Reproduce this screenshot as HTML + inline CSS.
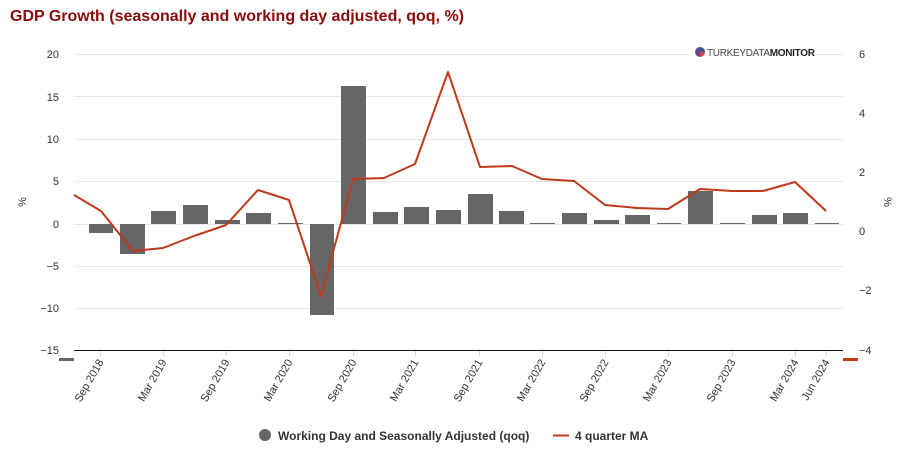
<!DOCTYPE html>
<html><head><meta charset="utf-8"><style>
body{margin:0;background:#fff;width:910px;height:466px;overflow:hidden}
svg{display:block;font-family:"Liberation Sans","DejaVu Sans",sans-serif}
</style></head><body>
<svg width="910" height="466" viewBox="0 0 910 466">
<text x="10" y="21" font-size="16" font-weight="bold" fill="#8b0a0a">GDP Growth (seasonally and working day adjusted, qoq, %)</text>
<g stroke="#e6e6e6" stroke-width="1">
<line x1="74" x2="843" y1="54.5" y2="54.5"/>
<line x1="74" x2="843" y1="96.5" y2="96.5"/>
<line x1="74" x2="843" y1="139.5" y2="139.5"/>
<line x1="74" x2="843" y1="181.5" y2="181.5"/>
<line x1="74" x2="843" y1="224.5" y2="224.5"/>
<line x1="74" x2="843" y1="266.5" y2="266.5"/>
<line x1="74" x2="843" y1="308.5" y2="308.5"/>
</g>
<rect x="688" y="44" width="122" height="16" fill="#fff"/>
<circle cx="700" cy="52" r="5" fill="#6a4a8a"/>
<path d="M700 47 A5 5 0 0 1 705 52 L700 52Z" fill="#2a5aa8"/>
<path d="M700 52 L705 52 A5 5 0 0 1 700 57Z" fill="#d44"/>
<text x="707" y="56" font-size="10" fill="#444" letter-spacing="-0.3">TURKEYDATA<tspan font-weight="bold" fill="#222">MONITOR</tspan></text>
<g font-size="11" fill="#333" text-anchor="end">
<text x="59" y="58">20</text><text x="59" y="101">15</text><text x="59" y="143">10</text>
<text x="59" y="185">5</text><text x="59" y="228">0</text><text x="59" y="270">−5</text>
<text x="59" y="312">−10</text><text x="59" y="354">−15</text>
</g>
<g font-size="11" fill="#333" text-anchor="start">
<text x="859" y="58">6</text><text x="859" y="117">4</text><text x="859" y="176">2</text>
<text x="859" y="235">0</text><text x="859" y="294">−2</text><text x="859" y="354">−4</text>
</g>
<text transform="translate(26,202) rotate(-90)" font-size="11" fill="#333" text-anchor="middle">%</text>
<text transform="translate(884,202) rotate(90)" font-size="11" fill="#333" text-anchor="middle">%</text>
<g fill="#666">
<rect x="89" y="224" width="24" height="9"/>
<rect x="120" y="224" width="25" height="30"/>
<rect x="151" y="211" width="25" height="13"/>
<rect x="183" y="205" width="25" height="19"/>
<rect x="215" y="220" width="25" height="4"/>
<rect x="246" y="213" width="25" height="11"/>
<rect x="278" y="223" width="25" height="1"/>
<rect x="310" y="224" width="24" height="91"/>
<rect x="341" y="86" width="25" height="138"/>
<rect x="373" y="212" width="25" height="12"/>
<rect x="404" y="207" width="25" height="17"/>
<rect x="436" y="210" width="25" height="14"/>
<rect x="468" y="194" width="25" height="30"/>
<rect x="499" y="211" width="25" height="13"/>
<rect x="530" y="223" width="25" height="1"/>
<rect x="562" y="213" width="25" height="11"/>
<rect x="594" y="220" width="25" height="4"/>
<rect x="625" y="215" width="25" height="9"/>
<rect x="657" y="223" width="24" height="1"/>
<rect x="688" y="191" width="25" height="33"/>
<rect x="720" y="223" width="25" height="1"/>
<rect x="752" y="215" width="25" height="9"/>
<rect x="783" y="213" width="25" height="11"/>
<rect x="815" y="223" width="24" height="1"/>
</g>
<polyline fill="none" stroke="#c0391b" stroke-width="2" stroke-linejoin="round" points="74,195 101,211 133,251 163,248 194,236 226,225 258,190 289,200 321,296 353,179 384,178 415,164 448,72 480,167 512,166 542,179 574,181 605,205 637,208 668,209 700,189 732,191 763,191 795,182 826,211"/>
<line x1="74" x2="843" y1="350.5" y2="350.5" stroke="#111" stroke-width="1"/>
<rect x="59" y="358" width="15" height="3" fill="#666"/>
<rect x="843" y="358" width="15" height="3" fill="#c0391b"/>
<g stroke="#ccd6eb" stroke-width="1">
<line x1="100.5" x2="100.5" y1="351" y2="356"/><line x1="163.5" x2="163.5" y1="351" y2="356"/>
<line x1="226.5" x2="226.5" y1="351" y2="356"/><line x1="289.5" x2="289.5" y1="351" y2="356"/>
<line x1="353.5" x2="353.5" y1="351" y2="356"/><line x1="415.5" x2="415.5" y1="351" y2="356"/>
<line x1="479.5" x2="479.5" y1="351" y2="356"/><line x1="542.5" x2="542.5" y1="351" y2="356"/>
<line x1="605.5" x2="605.5" y1="351" y2="356"/><line x1="668.5" x2="668.5" y1="351" y2="356"/>
<line x1="732.5" x2="732.5" y1="351" y2="356"/><line x1="795.5" x2="795.5" y1="351" y2="356"/>
<line x1="826.5" x2="826.5" y1="351" y2="356"/>
</g>
<g font-size="11" fill="#333" text-anchor="end">
<text transform="translate(104,362) rotate(-60)">Sep 2018</text>
<text transform="translate(167,362) rotate(-60)">Mar 2019</text>
<text transform="translate(230,362) rotate(-60)">Sep 2019</text>
<text transform="translate(293,362) rotate(-60)">Mar 2020</text>
<text transform="translate(357,362) rotate(-60)">Sep 2020</text>
<text transform="translate(419,362) rotate(-60)">Mar 2021</text>
<text transform="translate(483,362) rotate(-60)">Sep 2021</text>
<text transform="translate(546,362) rotate(-60)">Mar 2022</text>
<text transform="translate(609,362) rotate(-60)">Sep 2022</text>
<text transform="translate(672,362) rotate(-60)">Mar 2023</text>
<text transform="translate(736,362) rotate(-60)">Sep 2023</text>
<text transform="translate(799,362) rotate(-60)">Mar 2024</text>
<text transform="translate(830,362) rotate(-60)">Jun 2024</text>
</g>
<circle cx="265" cy="435" r="6" fill="#666"/>
<text x="278" y="440" font-size="12" font-weight="bold" fill="#333">Working Day and Seasonally Adjusted (qoq)</text>
<line x1="553" x2="569" y1="435.5" y2="435.5" stroke="#c0391b" stroke-width="2"/>
<text x="575" y="440" font-size="12" font-weight="bold" fill="#333">4 quarter MA</text>
</svg>
</body></html>
